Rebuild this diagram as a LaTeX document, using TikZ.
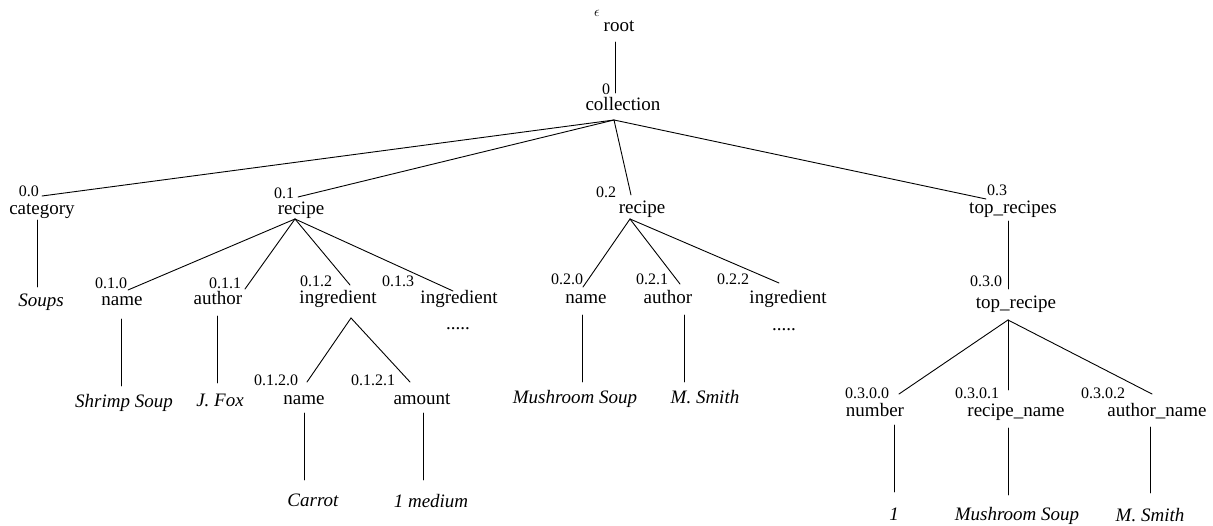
\documentclass[tikz,border=0pt]{standalone}
\usepackage{fontspec}
\setmainfont{Liberation Serif}
\begin{document}
\begin{tikzpicture}[x=1pt,y=-1pt,
  nm/.style={font=\fontsize{19}{19}\selectfont, inner sep=0pt, text height=13pt, text depth=4pt},
  lv/.style={font=\fontsize{19}{19}\selectfont\itshape, inner sep=0pt, text height=13pt, text depth=4pt},
  lb/.style={font=\fontsize{16}{16}\selectfont, inner sep=0pt, text height=11pt, text depth=0pt},
  edge/.style={line width=0.9pt, line cap=round}]
\useasboundingbox (0,0) rectangle (1213,526);
% element names
\node[nm] (root) at (619,27) {root};
\node[nm] (collection) at (623,106) {collection};
\node[nm] (category) at (42,210) {category};
\node[nm] (recipeA) at (301,210) {recipe};
\node[nm] (recipeB) at (642,209) {recipe};
\node[nm] (toprecipes) at (1013,209) {top\_recipes};
\node[nm] (nameA) at (122,301) {name};
\node[nm] (authorA) at (218,300) {author};
\node[nm] (ingrA) at (338,299) {ingredient};
\node[nm] (ingrB) at (459,299) {ingredient};
\node[nm] (dotsA) at (458,325) {.....};
\node[nm] (nameC) at (304,400) {name};
\node[nm] (amount) at (422,400) {amount};
\node[nm] (nameB) at (586,299) {name};
\node[nm] (authorB) at (668,299) {author};
\node[nm] (ingrC) at (788,299) {ingredient};
\node[nm] (dotsB) at (784,326) {.....};
\node[nm] (toprecipe) at (1016,304) {top\_recipe};
\node[nm] (number) at (875,412) {number};
\node[nm] (recipename) at (1016,412) {recipe\_name};
\node[nm] (authorname) at (1157,412) {author\_name};
% leaves
\node[lv] (soups) at (41,302) {Soups};
\node[lv] (shrimp) at (124,403) {Shrimp Soup};
\node[lv] (fox) at (220,402) {J. Fox};
\node[lv] (carrot) at (313,502) {Carrot};
\node[lv] (medium) at (431,503) {1 medium};
\node[lv] (mushA) at (575,399) {Mushroom Soup};
\node[lv] (smithA) at (705,399) {M. Smith};
\node[lv] (one) at (894,516) {1};
\node[lv] (mushB) at (1017,516) {Mushroom Soup};
\node[lv] (smithB) at (1150,517) {M. Smith};
% labels
\node[inner sep=0pt, font=\fontsize{15}{15}\selectfont] (eps) at (597,13) {$\epsilon$};
\node[lb] (l0) at (606,89) {0};
\node[lb] (l00) at (29,191) {0.0};
\node[lb] (l01) at (284,193) {0.1};
\node[lb] (l02) at (606,192) {0.2};
\node[lb] (l03) at (997,190) {0.3};
\node[lb] (l010) at (111,283) {0.1.0};
\node[lb] (l011) at (225,283) {0.1.1};
\node[lb] (l012) at (316,281) {0.1.2};
\node[lb] (l013) at (398,281) {0.1.3};
\node[lb] (l0120) at (276,380) {0.1.2.0};
\node[lb] (l0121) at (373,380) {0.1.2.1};
\node[lb] (l020) at (567,279) {0.2.0};
\node[lb] (l021) at (652,279) {0.2.1};
\node[lb] (l022) at (733,279) {0.2.2};
\node[lb] (l030) at (986,281) {0.3.0};
\node[lb] (l0300) at (867,393) {0.3.0.0};
\node[lb] (l0301) at (977,393) {0.3.0.1};
\node[lb] (l0302) at (1103,393) {0.3.0.2};
% connector end points
\coordinate (root-b) at (615,42);
\coordinate (coll-t) at (615,93);
\coordinate (coll-b) at (614,120);
\coordinate (cat-t) at (42,196);
\coordinate (recA-t) at (298,197);
\coordinate (recB-t) at (631,195);
\coordinate (tops-t) at (986,199);
\coordinate (cat-b) at (37,220);
\coordinate (soups-t) at (37,287);
\coordinate (recA-b) at (295,219);
\coordinate (nameA-t) at (128,290);
\coordinate (authA-t) at (245,289);
\coordinate (ingrA-t) at (350,285);
\coordinate (ingrB-t) at (453,291);
\coordinate (nameA-b) at (121,319);
\coordinate (shrimp-t) at (121,386);
\coordinate (authA-b) at (217,316);
\coordinate (fox-t) at (217,383);
\coordinate (ingrA-b) at (351,318);
\coordinate (nameC-t) at (307,382);
\coordinate (amount-t) at (410,382);
\coordinate (nameC-b) at (304,413);
\coordinate (carrot-t) at (304,480);
\coordinate (amount-b) at (423,413);
\coordinate (medium-t) at (423,480);
\coordinate (recB-b) at (630,219);
\coordinate (nameB-t) at (583,287);
\coordinate (authB-t) at (680,284);
\coordinate (ingrC-t) at (779,283);
\coordinate (nameB-b) at (582,315);
\coordinate (mushA-t) at (582,382);
\coordinate (authB-b) at (684,315);
\coordinate (smithA-t) at (684,382);
\coordinate (tops-b) at (1008,221);
\coordinate (topr-t) at (1008,289);
\coordinate (topr-b) at (1008,320);
\coordinate (num-t) at (899,394);
\coordinate (rn-t) at (1008,390);
\coordinate (an-t) at (1152,394);
\coordinate (num-b) at (894,425);
\coordinate (one-t) at (894,492);
\coordinate (rn-b) at (1008,428);
\coordinate (mushB-t) at (1008,495);
\coordinate (an-b) at (1150,427);
\coordinate (smithB-t) at (1150,493);
% connectors
\draw[edge] (root-b) -- (coll-t);
\draw[edge] (coll-b) -- (cat-t);
\draw[edge] (coll-b) -- (recA-t);
\draw[edge] (coll-b) -- (recB-t);
\draw[edge] (coll-b) -- (tops-t);
\draw[edge] (cat-b) -- (soups-t);
\draw[edge] (recA-b) -- (nameA-t);
\draw[edge] (recA-b) -- (authA-t);
\draw[edge] (recA-b) -- (ingrA-t);
\draw[edge] (recA-b) -- (ingrB-t);
\draw[edge] (nameA-b) -- (shrimp-t);
\draw[edge] (authA-b) -- (fox-t);
\draw[edge] (ingrA-b) -- (nameC-t);
\draw[edge] (ingrA-b) -- (amount-t);
\draw[edge] (nameC-b) -- (carrot-t);
\draw[edge] (amount-b) -- (medium-t);
\draw[edge] (recB-b) -- (nameB-t);
\draw[edge] (recB-b) -- (authB-t);
\draw[edge] (recB-b) -- (ingrC-t);
\draw[edge] (nameB-b) -- (mushA-t);
\draw[edge] (authB-b) -- (smithA-t);
\draw[edge] (tops-b) -- (topr-t);
\draw[edge] (topr-b) -- (num-t);
\draw[edge] (topr-b) -- (rn-t);
\draw[edge] (topr-b) -- (an-t);
\draw[edge] (num-b) -- (one-t);
\draw[edge] (rn-b) -- (mushB-t);
\draw[edge] (an-b) -- (smithB-t);
\end{tikzpicture}
\end{document}
